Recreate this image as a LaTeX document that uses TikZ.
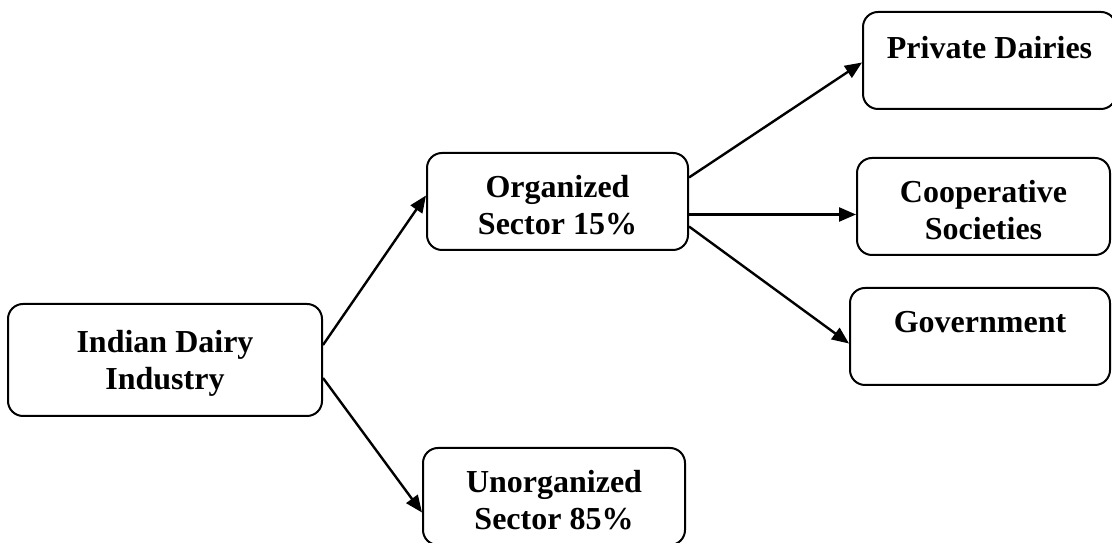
\documentclass[tikz,border=0pt]{standalone}
\usepackage{fontspec}
\setmainfont{Liberation Serif}
\usepackage{tikz}
\usetikzlibrary{arrows.meta}

\tikzset{
    dairybox/.style={draw, line width=2pt, rounded corners=15pt, align=center,
        font=\fontsize{32}{37}\selectfont\bfseries, inner sep=0pt,
        minimum height=97pt, text height=66pt},
    dairyarrow/.style={line width=2.4pt, -{Triangle[length=17pt,width=14pt]}}
}

\begin{document}
\begin{tikzpicture}[x=1pt,y=1pt]
                        % 画布大小
                        \useasboundingbox (0,0) rectangle (1112,543);

                        % 放置方框
                        \node[dairybox, minimum width=314pt, minimum height=112pt] (ind) at (165,183)
                            {Indian Dairy\\Industry};
                        \node[dairybox, minimum width=261pt] (org) at (557.5,341.5)
                            {Organized\\Sector 15\%};
                        \node[dairybox, minimum width=262pt] (unorg) at (554,46.5)
                            {Unorganized\\Sector 85\%};
                        \node[dairybox, minimum width=253pt, text height=24pt, text depth=28pt] (priv)
                            at (989.5,482.5) {Private Dairies};
                        \node[dairybox, minimum width=253pt] (coop) at (983.5,336.5)
                            {Cooperative\\Societies};
                        \node[dairybox, minimum width=260pt, text height=24pt, text depth=32pt] (gov)
                            at (980,206.5) {Government};

                        % 画箭头
                        \draw[dairyarrow] ([yshift=15pt]ind.east) -- ([yshift=6pt]org.west);
                        \draw[dairyarrow] ([yshift=-18pt]ind.east) -- ([yshift=-16pt]unorg.west);
                        \draw[dairyarrow] ([yshift=24pt]org.east) -- ([yshift=-2pt]priv.west);
                        \draw[dairyarrow] ([yshift=-13pt]org.east) -- ([yshift=-8pt]coop.west);
                        \draw[dairyarrow] ([yshift=-25pt]org.east) -- ([yshift=-7pt]gov.west);
                    \end{tikzpicture}
\end{document}
